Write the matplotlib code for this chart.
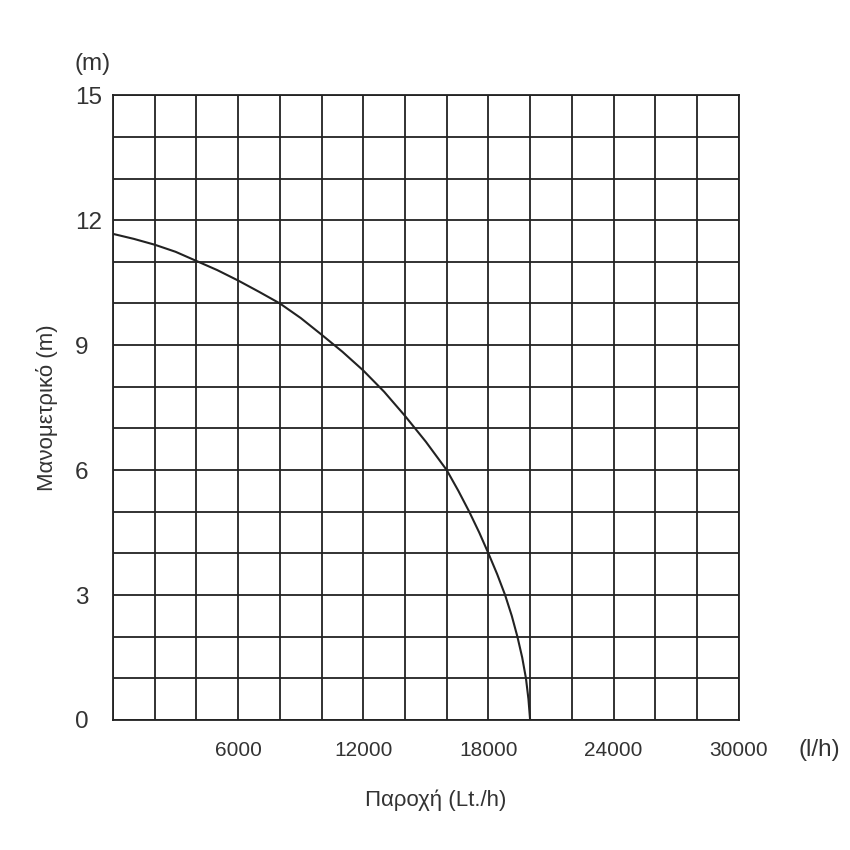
import matplotlib
matplotlib.use("Agg")
import matplotlib.pyplot as plt
from matplotlib.ticker import MultipleLocator

plt.rcParams['font.family'] = ['Liberation Sans', 'DejaVu Sans']

# pump curve (flow l/h, head m)
flow = [0, 1000, 2000, 3000, 4000, 5000, 6000, 7000, 8000, 9000, 10000, 11000, 12000,
        13000, 14000, 15000, 16000, 16560, 17080, 17560, 18000, 18420, 18800, 19120,
        19390, 19620, 19800, 19920, 20000]
head = [11.67, 11.55, 11.41, 11.24, 11.02, 10.8, 10.55, 10.28, 10.0, 9.65, 9.25, 8.84, 8.39,
        7.88, 7.3, 6.68, 6.0, 5.5, 5.0, 4.5, 4.0, 3.5, 3.0, 2.5,
        2.0, 1.5, 1.0, 0.5, 0.0]

xticks = [6000, 12000, 18000, 24000, 30000]
yticks = [0, 3, 6, 9, 12, 15]

fig = plt.figure(figsize=(8.5, 8.5), dpi=100)
ax = fig.add_axes([0.133, 0.153, 0.736, 0.735])

ax.plot(flow, head, color='#222222', lw=1.5)

ax.set_xlim(0, 30000)
ax.set_ylim(0, 15)
ax.xaxis.set_minor_locator(MultipleLocator(2000))
ax.yaxis.set_minor_locator(MultipleLocator(1))
ax.set_xticks(xticks)
ax.set_yticks(yticks)
ax.set_xticklabels([str(t) for t in xticks], fontsize=15, color='#333333',
                   family=['Liberation Sans Narrow', 'Liberation Sans'])
ax.set_yticklabels([str(t) for t in yticks], fontsize=17.5, color='#333333', ha='left')
ax.grid(True, which='both', color='#222222', lw=1.3)
ax.tick_params(which='both', length=0)
ax.tick_params(axis='x', pad=15.5)
ax.tick_params(axis='y', pad=27.5)
for s in ax.spines.values():
    s.set_color('#222222')
    s.set_linewidth(1.3)

ax.set_xlabel('Παροχή (Lt./h)', fontsize=16, color='#333333', va='center')
ax.xaxis.set_label_coords(0.515, -0.128)
ax.set_ylabel('Μανομετρικό (m)', fontsize=16, color='#333333', va='center')
ax.yaxis.set_label_coords(-0.105, 0.5)

fig.text(75 / 850, 1 - 64 / 850, '(m)', fontsize=17.5, color='#333333', va='center')
fig.text(798 / 850, 1 - 750 / 850, '(l/h)', fontsize=17.5, color='#333333', va='center')

fig.savefig('out.png', dpi=100)
